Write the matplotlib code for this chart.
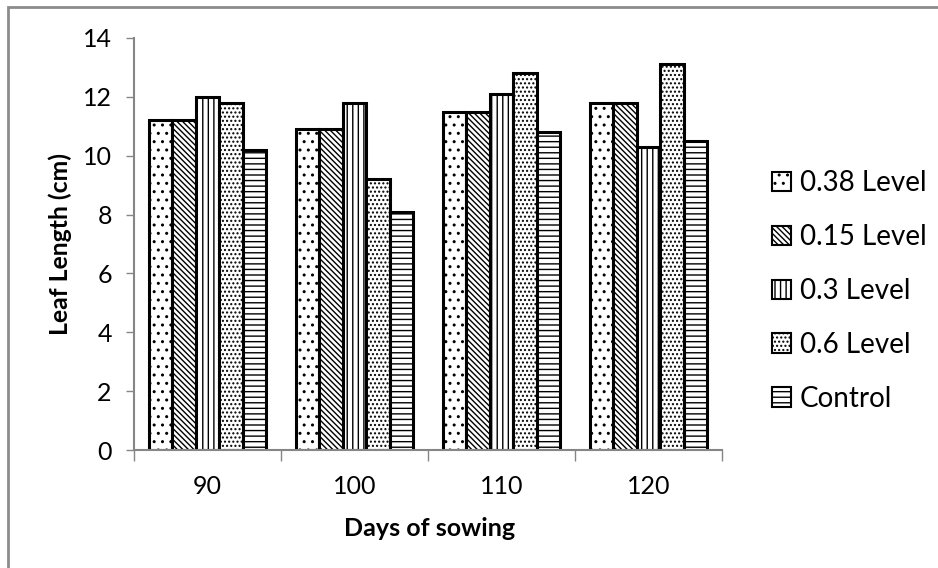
import numpy as np
import matplotlib.pyplot as plt
from matplotlib.patches import Rectangle

plt.rcParams['font.family'] = ['Lato', 'DejaVu Sans']
plt.rcParams['hatch.linewidth'] = 1.0

# data
days = ['90', '100', '110', '120']
series = ['0.38 Level', '0.15 Level', '0.3 Level', '0.6 Level', 'Control']
lvl_038 = [11.2, 10.9, 11.5, 11.8]
lvl_015 = [11.2, 10.9, 11.5, 11.8]
lvl_03 = [12.0, 11.8, 12.1, 10.3]
lvl_06 = [11.8, 9.2, 12.8, 13.1]
control = [10.2, 8.1, 10.8, 10.5]

values = [lvl_038, lvl_015, lvl_03, lvl_06, control]
hatches = ['..', '\\\\\\\\\\\\', '|||', '....', '---']

fig = plt.figure(figsize=(9.38, 5.68), dpi=100)
ax = fig.add_axes([0.1429, 0.2077, 0.6269, 0.7254])

x = np.arange(len(days))
w = 0.16
for i, (name, vals) in enumerate(zip(series, values)):
    ax.bar(x + (i - 2) * w, vals, width=w, color='white', edgecolor='black',
           linewidth=2.2, hatch=hatches[i], label=name)

grey = '#868686'
ax.set_xlim(-0.5, 3.5)
ax.set_ylim(0, 14)
ax.set_yticks(range(0, 15, 2))
ax.set_xticks(x)
ax.set_xticklabels(days)
ax.set_xticks(np.arange(-0.5, 4, 1), minor=True)
ax.tick_params(axis='x', which='major', length=0, pad=18, labelsize=18)
ax.tick_params(axis='x', which='minor', length=8, color=grey, width=1)
ax.tick_params(axis='y', length=6, color=grey, width=1, labelsize=18, pad=10)
for s in ['top', 'right']:
    ax.spines[s].set_visible(False)
for s in ['left', 'bottom']:
    ax.spines[s].set_color(grey)
    ax.spines[s].set_linewidth(1.5)

ax.set_xlabel('Days of sowing', fontsize=18, fontweight='bold')
ax.set_ylabel('Leaf Length (cm)', fontsize=17.8, fontweight='bold')
ax.xaxis.set_label_coords(0.502, -0.163)
ax.yaxis.set_label_coords(-0.105, 0.5)

leg = ax.legend(loc='center left', bbox_to_anchor=(1.042, 0.386), frameon=False,
                fontsize=20, handlelength=0.7, handleheight=0.7,
                handletextpad=0.3, labelspacing=1.0)
for h in leg.legend_handles:
    h.set_linewidth(1.5)

# outer grey frame of the chart area
fig.patches.append(Rectangle((8 / 938, -0.5), 2, 0.5 + (568 - 7) / 568,
                             transform=fig.transFigure, fill=False,
                             edgecolor='#8c8c8c', linewidth=2))

fig.savefig('out.png', dpi=100)
